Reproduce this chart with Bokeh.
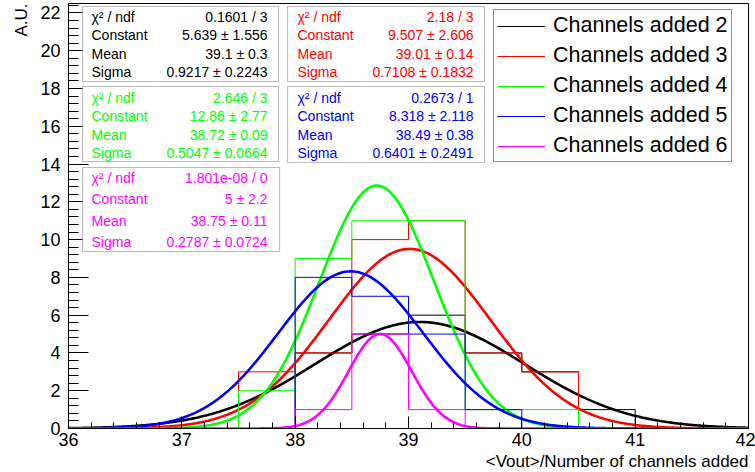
import numpy as np
from bokeh.plotting import figure
from bokeh.models import (Range1d, SingleIntervalTicker, Label, BoxAnnotation,
                          Legend, LegendItem, Title)
from bokeh.embed import file_html
from bokeh.resources import INLINE

# ---------------- data ----------------
bin_edges = [36.0, 36.5, 37.0, 37.5, 38.0, 38.5, 39.0, 39.5, 40.0, 40.5, 41.0, 41.5, 42.0]
counts_2 = [0, 0, 0, 0, 4, 5, 6, 4, 3, 1, 0, 0]
counts_3 = [0, 0, 0, 3, 4, 10, 11, 4, 3, 0, 0, 0]
counts_4 = [0, 0, 0, 2, 9, 11, 11, 1, 1, 0, 0, 0]
counts_5 = [0, 0, 0, 0, 8, 7, 5, 1, 0, 0, 0, 0]
counts_6 = [0, 0, 0, 0, 1, 5, 1, 0, 0, 0, 0, 0]

series_names = ["Channels added 2", "Channels added 3", "Channels added 4",
                "Channels added 5", "Channels added 6"]
fit_constant = [5.639, 9.507, 12.86, 8.318, 5.0]
fit_mean = [39.1, 39.01, 38.72, 38.49, 38.75]
fit_sigma = [0.9217, 0.7108, 0.5047, 0.6401, 0.2787]

chi2_text = ["0.1601 / 3", "2.18 / 3", "2.646 / 3", "0.2673 / 1", "1.801e-08 / 0"]
const_text = ["5.639 \u00b1 1.556", "9.507 \u00b1 2.606", "12.86 \u00b1 2.77",
              "8.318 \u00b1 2.118", "5 \u00b1 2.2"]
mean_text = ["39.1 \u00b1 0.3", "39.01 \u00b1 0.14", "38.72 \u00b1 0.09",
             "38.49 \u00b1 0.38", "38.75 \u00b1 0.11"]
sigma_text = ["0.9217 \u00b1 0.2243", "0.7108 \u00b1 0.1832", "0.5047 \u00b1 0.0664",
              "0.6401 \u00b1 0.2491", "0.2787 \u00b1 0.0724"]
param_names = ["\u03c7\u00b2 / ndf", "Constant", "Mean", "Sigma"]

x_title = "<Vout>/Number of channels added"
y_title = "A.U."
x_ticks_interval = 1
y_ticks_interval = 2

# ---------------- styles / layout ----------------
colors = ["#000000", "#ff0000", "#00ff00", "#0000ff", "#ff00ff"]
FONT = "Liberation Sans"
X0, X1 = 36.0, 42.0
Y0, Y1 = 0.0, 22.5
FL, FR, FT, FB = 68, 748, 3, 428   # frame edges in canvas pixels
W, H = 755, 472

def rx(px):
    return X0 + (px - FL) / (FR - FL) * (X1 - X0)

def ry(py):
    return Y1 * (FB - py) / (FB - FT)

p = figure(width=W, height=H, output_backend="svg", toolbar_location=None,
           x_range=Range1d(X0, X1), y_range=Range1d(Y0, Y1),
           min_border_left=FL, min_border_right=W - FR, min_border_top=FT,
           min_border_bottom=H - FB)
p.grid.visible = False
p.outline_line_color = "black"
p.outline_line_width = 1
p.background_fill_color = "white"
p.border_fill_color = "white"

p.xaxis.ticker = SingleIntervalTicker(interval=x_ticks_interval, num_minor_ticks=5)
p.yaxis.ticker = SingleIntervalTicker(interval=y_ticks_interval, num_minor_ticks=5)
for ax in (p.xaxis[0], p.yaxis[0]):
    ax.axis_line_color = "black"
    ax.major_tick_line_color = "black"
    ax.minor_tick_line_color = "black"
    ax.major_tick_out = 0
    ax.minor_tick_out = 0
    ax.major_label_text_font = FONT
    ax.major_label_text_font_size = "18px"
    ax.major_label_text_color = "black"
p.xaxis.major_tick_in = 12
p.xaxis.minor_tick_in = 6
p.yaxis.major_tick_in = 20
p.yaxis.minor_tick_in = 10
p.xaxis.major_label_standoff = 4
p.yaxis.major_label_standoff = 8

# ---------------- histograms + fits ----------------
all_counts = [counts_2, counts_3, counts_4, counts_5, counts_6]
xf = np.linspace(X0, X1, 601)
hist_renderers = []
for k, counts in enumerate(all_counts):
    xs = [bin_edges[0]]
    ys = [0]
    for i, c in enumerate(counts):
        xs += [bin_edges[i], bin_edges[i + 1]]
        ys += [c, c]
    xs.append(bin_edges[-1])
    ys.append(0)
    r = p.line(xs, ys, line_color=colors[k], line_width=1)
    hist_renderers.append(r)
    yf = fit_constant[k] * np.exp(-0.5 * ((xf - fit_mean[k]) / fit_sigma[k]) ** 2)
    p.line(xf, yf, line_color=colors[k], line_width=2.6)

# ---------------- stat boxes ----------------
# (left, top, right, bottom, label_x, value_right, row_ys) in canvas pixels
box_layout = [
    (82, 6, 278, 81, 91, 267, [16, 34, 53, 71]),
    (287, 6, 484, 81, 297, 473, [16, 34, 53, 71]),
    (82, 86, 278, 161, 91, 267, [97, 115, 134, 152]),
    (287, 86, 484, 162, 297, 473, [97, 115, 134, 152]),
    (82, 167, 279, 251, 91, 267, [177, 198, 220, 241]),
]
for k, (l, t, rr, b, lx, vx, rows) in enumerate(box_layout):
    p.add_layout(BoxAnnotation(left=rx(l), right=rx(rr), top=ry(t), bottom=ry(b),
                               fill_color="white", fill_alpha=1.0,
                               line_color="#222222", line_width=1.2))
    vals = [chi2_text[k], const_text[k], mean_text[k], sigma_text[k]]
    for j in range(4):
        p.add_layout(Label(x=rx(lx), y=ry(rows[j]), text=param_names[j],
                           text_font=FONT, text_font_size="14px",
                           text_color=colors[k], text_align="left",
                           text_baseline="middle"))
        p.add_layout(Label(x=rx(vx), y=ry(rows[j]), text=vals[j],
                           text_font=FONT, text_font_size="14px",
                           text_color=colors[k], text_align="right",
                           text_baseline="middle"))

# ---------------- legend ----------------
legend = Legend(items=[LegendItem(label=series_names[k], renderers=[hist_renderers[k]])
                       for k in range(5)],
                location=(493 - FL, FB - 162),
                label_text_font=FONT, label_text_font_size="21.5px",
                label_text_color="black",
                glyph_width=48, glyph_height=20, label_height=20,
                spacing=5, padding=3, label_standoff=8, margin=0,
                border_line_color="#222222", border_line_width=1,
                background_fill_color="white", background_fill_alpha=1.0)
p.add_layout(legend)

# ---------------- axis titles ----------------
p.add_layout(Title(text=x_title, align="right", text_font=FONT,
                   text_font_size="17px", text_font_style="normal",
                   text_color="black", standoff=2, offset=0), "below")
p.add_layout(Title(text=y_title, align="right", text_font=FONT,
                   text_font_size="17px", text_font_style="normal",
                   text_color="black", standoff=14, offset=0), "left")

open("out.html", "w").write(file_html(p, INLINE))
